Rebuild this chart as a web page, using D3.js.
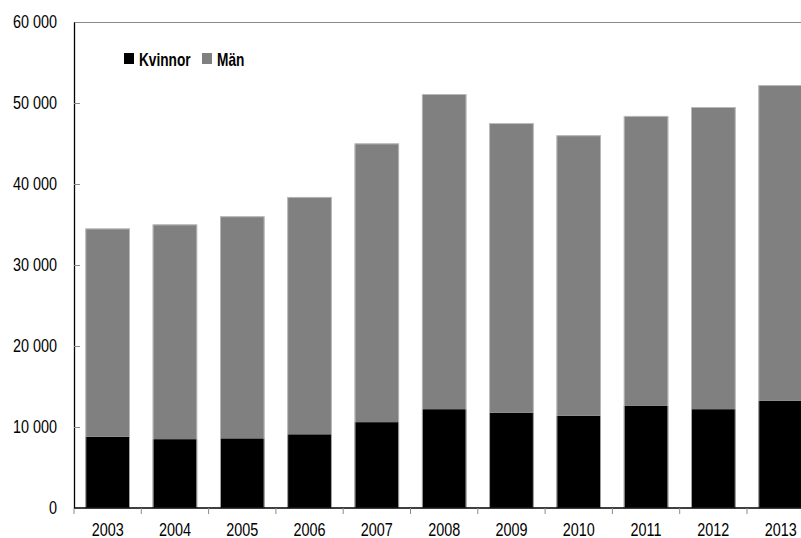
<!DOCTYPE html>
<html>
<head>
<meta charset="utf-8">
<script src="https://cdn.jsdelivr.net/npm/d3@7"></script>
<style>
  html, body { margin: 0; padding: 0; background: #fff; }
  svg { display: block; }
  text { font-family: "Liberation Sans", Arial, sans-serif; }
</style>
</head>
<body>
<svg id="chart" width="801" height="538"></svg>
<script>
const years = ["2003","2004","2005","2006","2007","2008","2009","2010","2011","2012","2013"];
const kvinnor = [8800, 8500, 8600, 9100, 10600, 12200, 11750, 11400, 12600, 12200, 13250];
const totals = [34500, 35000, 36000, 38400, 45000, 51100, 47500, 46000, 48400, 49500, 52200];
const man = totals.map((t, i) => t - kvinnor[i]);
const yTicks = [0, 10000, 20000, 30000, 40000, 50000, 60000];
const seriesNames = ["Kvinnor", "Män"];
const seriesColors = ["#000000", "#808080"];

const NARROW = 0.8;
const FS = 18;
const svg = d3.select("#chart");
const mLeft = 74, mTop = 22, mBottom = 508, mRight = 814.3;

const x = d3.scaleBand().domain(years).range([mLeft, mRight]).paddingInner(0.34).paddingOuter(0.17);
const y = d3.scaleLinear().domain([0, 60000]).range([mBottom, mTop]);

const fmt = d3.formatLocale({decimal: ",", thousands: " ", grouping: [3], currency: ["", ""]}).format(",");

// top frame line
svg.append("line")
  .attr("x1", mLeft).attr("x2", 801)
  .attr("y1", y(60000) + 0.5).attr("y2", y(60000) + 0.5)
  .attr("stroke", "#8a8a8a").attr("stroke-width", 1);

// stacked bars
const stackData = years.map((yr, i) => ({year: yr, Kvinnor: kvinnor[i], "Män": man[i]}));
const stack = d3.stack().keys(seriesNames)(stackData);

svg.append("g").selectAll("g")
  .data(stack)
  .join("g")
  .attr("fill", (d, i) => seriesColors[i])
  .selectAll("rect")
  .data(d => d)
  .join("rect")
  .attr("x", d => x(d.data.year))
  .attr("width", x.bandwidth())
  .attr("y", d => y(d[1]))
  .attr("height", d => y(d[0]) - y(d[1]));

// light outline on total bars
svg.append("g").selectAll("rect")
  .data(stack[1])
  .join("rect")
  .attr("x", d => x(d.data.year) + 0.4)
  .attr("width", x.bandwidth() - 0.8)
  .attr("y", d => y(d[1]) + 0.4)
  .attr("height", d => y(0) - y(d[1]) - 0.4)
  .attr("fill", "none")
  .attr("stroke", "#c4c4c4")
  .attr("stroke-width", 0.8);

// y axis
const yAxis = d3.axisLeft(y).tickValues(yTicks).tickFormat(fmt)
  .tickSizeInner(-6).tickSizeOuter(0).tickPadding(17);
const gy = svg.append("g").attr("transform", `translate(${mLeft},0)`).call(yAxis);
gy.select(".domain").attr("stroke", "#000").attr("stroke-width", 1.3);
gy.selectAll(".tick line").attr("stroke", "#8a8a8a");
gy.selectAll(".tick").filter(d => d === 0 || d === 60000).select("line").remove();
gy.selectAll(".tick text")
  .attr("font-size", FS).attr("fill", "#000")
  .attr("font-family", '"Liberation Sans", Arial, sans-serif')
  .attr("x", -17 / NARROW)
  .attr("transform", `scale(${NARROW},1)`);

// x axis
const gx = svg.append("g");
gx.append("line")
  .attr("x1", mLeft).attr("x2", 801)
  .attr("y1", mBottom).attr("y2", mBottom)
  .attr("stroke", "#000").attr("stroke-width", 1.3);
const step = x.step();
gx.selectAll("line.tk")
  .data(years)
  .join("line")
  .attr("class", "tk")
  .attr("x1", d => x(d) - step * 0.17)
  .attr("x2", d => x(d) - step * 0.17)
  .attr("y1", mBottom).attr("y2", mBottom + 6)
  .attr("stroke", "#8a8a8a").attr("stroke-width", 1);
gx.selectAll("g.lbl")
  .data(years)
  .join("g")
  .attr("class", "lbl")
  .attr("transform", d => `translate(${x(d) + x.bandwidth() / 2},536) scale(${NARROW},1)`)
  .append("text")
  .attr("text-anchor", "middle")
  .attr("font-size", FS)
  .attr("fill", "#000")
  .text(d => d);

// legend
const legend = svg.append("g");
const legendX = [124, 202];
const legendTextX = [139, 217];
seriesNames.forEach((name, i) => {
  legend.append("rect")
    .attr("x", legendX[i]).attr("y", 53)
    .attr("width", 10).attr("height", 11)
    .attr("fill", seriesColors[i]);
  legend.append("g")
    .attr("transform", `translate(${legendTextX[i]},65.5) scale(0.76,1)`)
    .append("text")
    .attr("font-size", 18)
    .attr("font-weight", "bold")
    .attr("fill", "#000")
    .text(name);
});
</script>
</body>
</html>
